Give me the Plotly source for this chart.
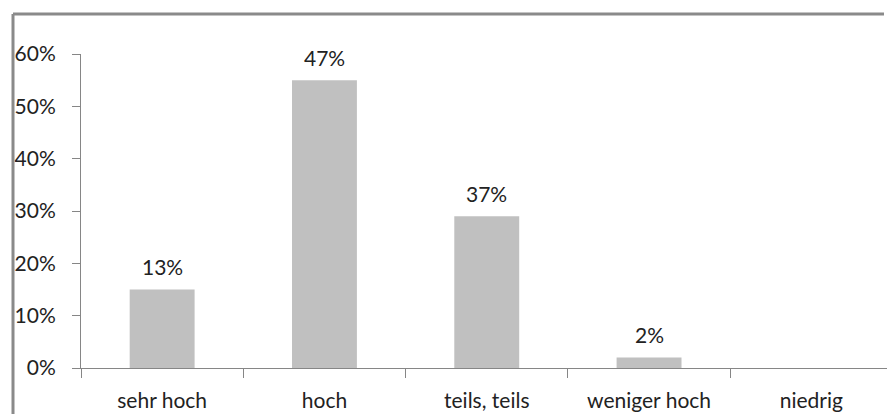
import plotly.graph_objects as go

categories = ["sehr hoch", "hoch", "teils, teils", "weniger hoch", "niedrig"]
bar_values = [0.15, 0.55, 0.29, 0.02, 0.0]
bar_labels = ["13%", "47%", "37%", "2%", ""]

W, H = 887, 417
L, R, T, B = 81, 0, 54, 49
pw, ph = W - L - R, H - T - B

def px_x(px):
    return (px - L) / pw

def px_y(py):
    return (H - B - py) / ph

font = dict(family="Lato, 'Open Sans', sans-serif", size=21, color="#222222")

fig = go.Figure(go.Bar(
    x=categories, y=bar_values, width=0.4,
    marker=dict(color="#c0c0c0", line=dict(width=0)),
    hoverinfo="skip",
))

for c, v, t in zip(categories, bar_values, bar_labels):
    if t:
        fig.add_annotation(x=c, y=v, text=t, showarrow=False, yanchor="middle",
                           yshift=23, font=font)

border = "#8a8a8a"
fig.add_shape(type="line", xref="paper", yref="paper",
              x0=px_x(13), x1=px_x(W - 3), y0=px_y(14), y1=px_y(14),
              line=dict(color=border, width=3))
fig.add_shape(type="line", xref="paper", yref="paper",
              x0=px_x(13), x1=px_x(13), y0=px_y(14), y1=px_y(H - 3),
              line=dict(color=border, width=3))

fig.update_layout(
    width=W, height=H,
    margin=dict(l=L, r=R, t=T, b=B, pad=0, autoexpand=False),
    paper_bgcolor="white", plot_bgcolor="white",
    showlegend=False, font=font, bargap=0.6,
)
fig.update_xaxes(
    type="category", range=[-0.5, -0.5 + pw / 162.3],
    showline=True, linecolor="#868686", linewidth=1, mirror=False,
    ticks="outside", tickson="boundaries", ticklen=9, tickcolor="#868686",
    ticklabelstandoff=14, automargin=False,
    showgrid=False, zeroline=False, tickfont=font,
)
fig.update_yaxes(
    range=[0, 0.6], dtick=0.1, tickformat=".0%",
    showline=True, linecolor="#868686", linewidth=1, mirror=False,
    ticks="outside", ticklen=8, tickcolor="#868686",
    ticklabelstandoff=12, automargin=False,
    showgrid=False, zeroline=False, tickfont=font,
)

fig.write_html("out.html", config={"displayModeBar": False})
